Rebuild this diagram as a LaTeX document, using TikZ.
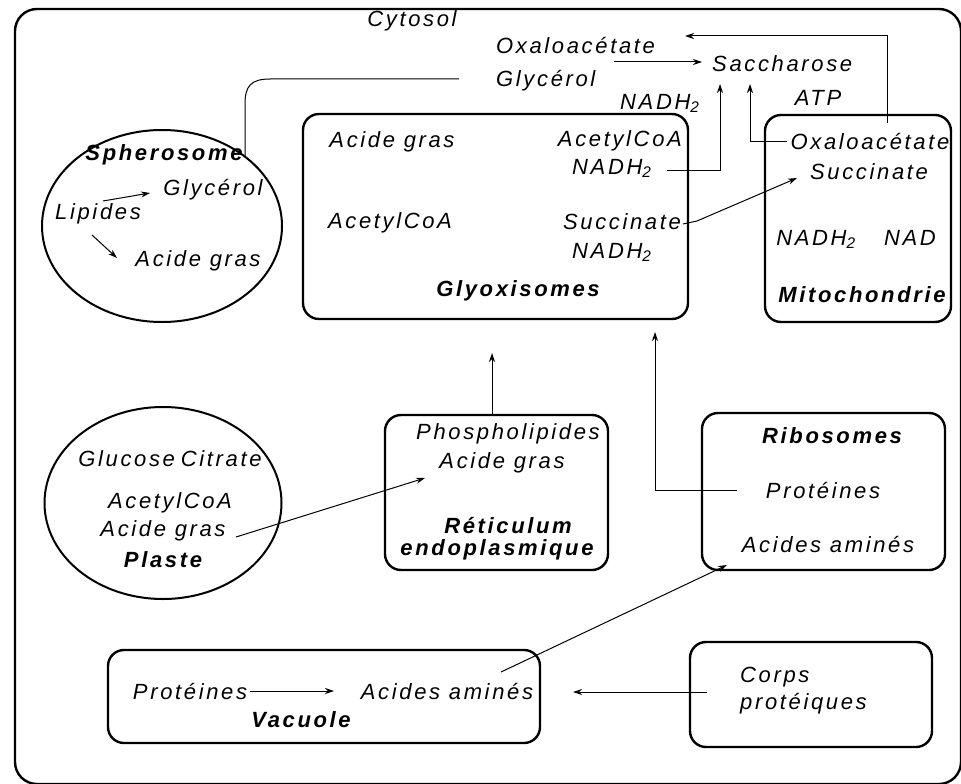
\documentclass[tikz,border=0pt]{standalone}
\usepackage{fontspec}
\setmainfont{Liberation Sans}[LetterSpace=12]
\usetikzlibrary{arrows.meta,shapes.geometric}
\begin{document}
\begin{tikzpicture}[x=1pt,y=-1pt,
  lbl/.style={inner sep=0pt, anchor=base, font=\fontsize{22}{26}\selectfont\itshape},
  blbl/.style={lbl, font=\fontsize{22}{26}\selectfont\bfseries\itshape},
  box/.style={draw, line width=2.4pt, rounded corners=16pt, inner sep=0pt},
  oval/.style={draw, ellipse, line width=2pt, inner sep=0pt},
  conn/.style={line width=1pt},
  arr/.style={conn, -{Stealth[length=9pt,width=6pt]}}]
\fill[white] (0,0) rectangle (961,784);
\useasboundingbox (0,0) rectangle (961,784);
% outer frame (cytosol)
\draw[line width=2.4pt, rounded corners=22pt] (15,9) rectangle (961,784);

% compartments
\node[box, minimum width=385pt, minimum height=205pt] (glyo) at (495.5,216.5) {};
\node[box, minimum width=186pt, minimum height=207pt] (mito) at (858,218.5) {};
\node[box, minimum width=223pt, minimum height=155pt] (ret) at (496.5,492.5) {};
\node[box, minimum width=243pt, minimum height=157pt] (ribo) at (823.5,491.5) {};
\node[box, minimum width=432pt, minimum height=93pt] (vac) at (324,696.5) {};
\node[box, minimum width=242pt, minimum height=105pt] (corps) at (811,694.5) {};
\node[oval, minimum width=240pt, minimum height=192pt] (sph) at (162,226) {};
\node[oval, minimum width=237pt, minimum height=192pt] (pla) at (163,503) {};

% cytosol texts
\node[lbl] (cyt) at (412,27) {Cytosol};
\node[lbl, anchor=base west] (oxa) at (496,54) {Oxaloacétate};
\node[lbl, anchor=base west] (cgly) at (496,86) {Glycérol};
\node[lbl, anchor=base west] (sac) at (712,72) {Saccharose};
\node[lbl, anchor=base west] (nadt) at (620,109) {NADH\textsubscript{2}};
\node[lbl] (atp) at (818,106) {ATP};

% spherosome
\node[blbl] (sphl) at (164,160) {Spherosome};
\node[lbl] (sgly) at (213,195) {Glycérol};
\node[lbl] (lip) at (98,219) {Lipides};
\node[lbl] (sag) at (198,266) {Acide gras};

% glyoxisomes
\node[lbl] (gag) at (392,147) {Acide gras};
\node[lbl, anchor=base east] (gacc1) at (682,146) {AcetylCoA};
\node[lbl, anchor=base west] (gnad1) at (572,174) {NADH\textsubscript{2}};
\node[lbl] (gacc2) at (390,228) {AcetylCoA};
\node[lbl, anchor=base east] (gsuc) at (681,229) {Succinate};
\node[lbl, anchor=base west] (gnad2) at (572,258) {NADH\textsubscript{2}};
\node[blbl] (glyol) at (518,296) {Glyoxisomes};

% mitochondrie
\node[lbl] (moxa) at (870,149) {Oxaloacétate};
\node[lbl] (msuc) at (869,179) {Succinate};
\node[lbl] (mnadh) at (816,245) {NADH\textsubscript{2}};
\node[lbl] (mnad) at (910,245) {NAD};
\node[blbl] (mitol) at (862,302) {Mitochondrie};

% plaste
\node[lbl] (pgc) at (170,466) {Glucose\hspace{6pt}Citrate};
\node[lbl] (pacc) at (170,508) {AcetylCoA};
\node[lbl] (pag) at (163,536) {Acide gras};
\node[blbl] (plal) at (163,567) {Plaste};

% reticulum
\node[lbl] (rpl) at (508,439) {Phospholipides};
\node[lbl] (rag) at (502,468) {Acide gras};
\node[blbl] (retl1) at (508,533) {Réticulum};
\node[blbl] (retl2) at (497,555) {endoplasmique};

% ribosomes
\node[blbl] (ribol) at (832,443) {Ribosomes};
\node[lbl] (rprot) at (823,498) {Protéines};
\node[lbl] (raa) at (828,552) {Acides aminés};

% vacuole
\node[lbl] (vprot) at (190,699) {Protéines};
\node[lbl] (vaa) at (447,699) {Acides aminés};
\node[blbl] (vacl) at (301,727) {Vacuole};
\node[lbl, anchor=base west] (cp1) at (740,682) {Corps};
\node[lbl, anchor=base west] (cp2) at (740,709) {protéiques};

% connectors
\coordinate (c1) at (614,62);
\coordinate (c1e) at (702,62);
\draw[arr] (c1) -- (c1e);

\coordinate (t1) at (887,123);
\coordinate (t2) at (887,36);
\coordinate (t3) at (685,36);
\draw[arr] (t1) -- (t2) -- (t3);

\coordinate (v1s) at (667,170);
\coordinate (v1c) at (720,170);
\coordinate (v1e) at (720,84);
\draw[arr] (v1s) -- (v1c) -- (v1e);

\coordinate (v2s) at (787,141);
\coordinate (v2c) at (750,141);
\coordinate (v2e) at (750,84);
\draw[arr] (v2s) -- (v2c) -- (v2e);

\coordinate (s1) at (245,156);
\coordinate (s2) at (459,79);
\draw[conn] (s1) -- (245,104) .. controls (245,86) and (251,79) .. (270,79) -- (s2);

\coordinate (l1a) at (103,201);
\coordinate (l1b) at (150,193);
\draw[arr] (l1a) -- (l1b);
\coordinate (l2a) at (92,235);
\coordinate (l2b) at (117,258);
\draw[arr] (l2a) -- (l2b);

\coordinate (su1) at (683,224);
\coordinate (su2) at (797,178);
\draw[arr] (su1) -- (697,221) -- (su2);

\coordinate (p1) at (236,537);
\coordinate (p2) at (425,478);
\draw[arr] (p1) -- (p2);

\coordinate (r1) at (492,415);
\coordinate (r2) at (492,353);
\draw[arr] (r1) -- (r2);

\coordinate (ri1) at (737,490);
\coordinate (ri2) at (655,490);
\coordinate (ri3) at (655,332);
\draw[arr] (ri1) -- (ri2) -- (ri3);

\coordinate (va1) at (501,672);
\coordinate (va2) at (727,565);
\draw[arr] (va1) -- (va2);

\coordinate (vp1) at (250,691);
\coordinate (vp2) at (334,691);
\draw[arr] (vp1) -- (vp2);

\coordinate (cp1s) at (707,692);
\coordinate (cp1e) at (573,692);
\draw[arr] (cp1s) -- (cp1e);
\end{tikzpicture}
\end{document}
